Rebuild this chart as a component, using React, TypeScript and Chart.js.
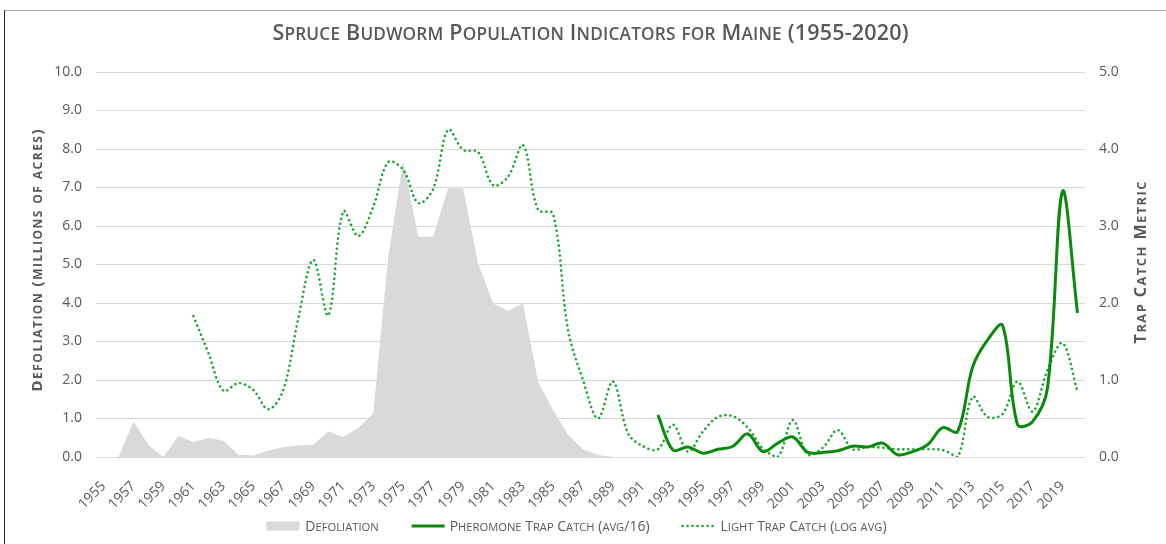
import React, { useEffect, useRef } from 'react';
import { Chart, registerables } from 'chart.js';

Chart.register(...registerables);

const CHART_TITLE = 'Spruce Budworm Population Indicators for Maine (1955-2020)';
const LEFT_AXIS_TITLE = 'Defoliation (millions of acres)';
const RIGHT_AXIS_TITLE = 'Trap Catch Metric';

const YEARS = [
  '1955', '1956', '1957', '1958', '1959', '1960', '1961', '1962', '1963', '1964',
  '1965', '1966', '1967', '1968', '1969', '1970', '1971', '1972', '1973', '1974',
  '1975', '1976', '1977', '1978', '1979', '1980', '1981', '1982', '1983', '1984',
  '1985', '1986', '1987', '1988', '1989', '1990', '1991', '1992', '1993', '1994',
  '1995', '1996', '1997', '1998', '1999', '2000', '2001', '2002', '2003', '2004',
  '2005', '2006', '2007', '2008', '2009', '2010', '2011', '2012', '2013', '2014',
  '2015', '2016', '2017', '2018', '2019', '2020',
];

const X_TICK_LABELS = [
  '1955', '1957', '1959', '1961', '1963', '1965', '1967', '1969', '1971', '1973',
  '1975', '1977', '1979', '1981', '1983', '1985', '1987', '1989', '1991', '1993',
  '1995', '1997', '1999', '2001', '2003', '2005', '2007', '2009', '2011', '2013',
  '2015', '2017', '2019',
];

const LEFT_TICKS = [0, 1, 2, 3, 4, 5, 6, 7, 8, 9, 10];
const RIGHT_TICKS = [0, 1, 2, 3, 4, 5];

// Defoliation, millions of acres (left axis)
const DEFOLIATION = [
  0, 0, 0.92, 0.31, 0, 0.55, 0.38, 0.5, 0.42, 0.06,
  0.04, 0.17, 0.26, 0.3, 0.32, 0.66, 0.52, 0.76, 1.13, 5.2,
  7.7, 5.72, 5.72, 6.98, 6.98, 5.03, 3.99, 3.79, 3.99, 1.96,
  1.22, 0.57, 0.2, 0.05, 0, 0, 0, 0, 0, 0,
  0, 0, 0, 0, 0, 0, 0, 0, 0, 0,
  0, 0, 0, 0, 0, 0, 0, 0, 0, 0,
  0, 0, 0, 0, 0, 0,
];

// Pheromone trap catch (avg/16), right axis
const PHEROMONE = [
  null, null, null, null, null, null, null, null, null, null,
  null, null, null, null, null, null, null, null, null, null,
  null, null, null, null, null, null, null, null, null, null,
  null, null, null, null, null, null, null, 0.545, 0.09, 0.13,
  0.05, 0.1, 0.14, 0.3, 0.07, 0.18, 0.26, 0.06, 0.06, 0.08,
  0.14, 0.13, 0.18, 0.03, 0.07, 0.16, 0.38, 0.33, 1.17, 1.52,
  1.71, 0.42, 0.46, 0.9, 3.45, 1.87,
];

// Light trap catch (log avg), right axis
const LIGHT_TRAP = [
  null, null, null, null, null, null, 1.83, 1.35, 0.86, 0.96,
  0.87, 0.62, 0.87, 1.8, 2.56, 1.84, 3.19, 2.87, 3.25, 3.83,
  3.73, 3.3, 3.48, 4.25, 3.99, 3.96, 3.53, 3.64, 4.05, 3.21,
  3.16, 1.65, 1.0, 0.5, 0.98, 0.31, 0.14, 0.1, 0.42, 0.07,
  0.33, 0.52, 0.53, 0.38, 0.11, 0.0, 0.48, 0.03, 0.12, 0.35,
  0.1, 0.13, 0.12, 0.1, 0.1, 0.1, 0.09, 0.0, 0.78, 0.52,
  0.56, 0.98, 0.59, 1.13, 1.48, 0.85,
];

const SERIES_LABELS = ['Defoliation', 'Pheromone Trap Catch (avg/16)', 'Light Trap Catch (log avg)'];

const FONT = "'Open Sans', sans-serif";
const TEXT_GRAY = '#595959';
const GRID_GRAY = '#d9d9d9';
const AREA_GRAY = '#d9d9d9';
const DARK_GREEN = '#0a8a0a';
const LIGHT_GREEN = '#14a82a';
const DOT_DASH = [0.01, 5];

type Run = { t: string; s: number };

function smallCapsRuns(text: string, size: number, ratio: number): Run[] {
  const runs: Run[] = [];
  for (const ch of text) {
    const lower = ch !== ch.toUpperCase();
    const s = lower ? size * ratio : size;
    const t = lower ? ch.toUpperCase() : ch;
    const last = runs[runs.length - 1];
    if (last && last.s === s) last.t += t;
    else runs.push({ t, s });
  }
  return runs;
}

function measureSmallCaps(ctx: CanvasRenderingContext2D, text: string, size: number, weight: number, ratio: number, spacing: number) {
  (ctx as any).letterSpacing = `${spacing}px`;
  let total = 0;
  for (const r of smallCapsRuns(text, size, ratio)) {
    ctx.font = `${weight} ${r.s}px ${FONT}`;
    total += ctx.measureText(r.t).width;
  }
  (ctx as any).letterSpacing = '0px';
  return total - spacing;
}

// Draws text in small capitals (lowercase letters shown as reduced capitals).
function drawSmallCaps(
  ctx: CanvasRenderingContext2D,
  text: string,
  x: number,
  y: number,
  size: number,
  weight: number,
  ratio: number,
  spacing: number,
  align: 'left' | 'center' = 'center',
) {
  const runs = smallCapsRuns(text, size, ratio);
  const total = measureSmallCaps(ctx, text, size, weight, ratio, spacing);
  (ctx as any).letterSpacing = `${spacing}px`;
  let cx = align === 'center' ? x - total / 2 : x;
  ctx.textAlign = 'left';
  ctx.textBaseline = 'alphabetic';
  for (const r of runs) {
    ctx.font = `${weight} ${r.s}px ${FONT}`;
    ctx.fillText(r.t, cx, y);
    cx += ctx.measureText(r.t).width;
  }
  (ctx as any).letterSpacing = '0px';
}

const titlesPlugin = {
  id: 'smallCapsTitles',
  afterDraw(chart: any) {
    const { ctx, chartArea } = chart;
    const midX = (chartArea.left + chartArea.right) / 2;
    const midY = (chartArea.top + chartArea.bottom) / 2;
    ctx.save();
    ctx.fillStyle = TEXT_GRAY;
    // chart title
    drawSmallCaps(ctx, CHART_TITLE, midX, 39.5, 21.5, 600, 0.8, 0.2);
    // left axis title
    ctx.save();
    ctx.translate(42, midY - 4);
    ctx.rotate(-Math.PI / 2);
    drawSmallCaps(ctx, LEFT_AXIS_TITLE, 0, 0, 15, 700, 0.8, 1.5);
    ctx.restore();
    // right axis title
    ctx.save();
    ctx.translate(1146, midY - 2);
    ctx.rotate(-Math.PI / 2);
    drawSmallCaps(ctx, RIGHT_AXIS_TITLE, 0, 0, 16, 700, 0.8, 1.5);
    ctx.restore();

    // legend
    const size = 14;
    const ratio = 0.8;
    const symW = 33;
    const gap = 6;
    const itemGap = 32;
    const cy = 526;
    const widths = SERIES_LABELS.map((t) => measureSmallCaps(ctx, t, size, 400, ratio, 0));
    const total = widths.reduce((a, w) => a + symW + gap + w, 0) + itemGap * (SERIES_LABELS.length - 1);
    let x = midX - 14 - total / 2;
    SERIES_LABELS.forEach((label, i) => {
      ctx.save();
      if (i === 0) {
        ctx.fillStyle = AREA_GRAY;
        ctx.fillRect(x, cy - 4.5, symW, 9);
      } else {
        ctx.beginPath();
        ctx.strokeStyle = i === 1 ? DARK_GREEN : LIGHT_GREEN;
        ctx.lineWidth = i === 1 ? 3 : 2.6;
        ctx.lineCap = i === 1 ? 'butt' : 'round';
        ctx.setLineDash(i === 1 ? [] : DOT_DASH);
        ctx.moveTo(x + 1, cy);
        ctx.lineTo(x + symW + 1, cy);
        ctx.stroke();
      }
      ctx.restore();
      ctx.fillStyle = TEXT_GRAY;
      drawSmallCaps(ctx, label, x + symW + gap, cy + 5, size, 400, ratio, 0, 'left');
      x += symW + gap + widths[i] + itemGap;
    });
    ctx.restore();
  },
};

export default function App() {
  const canvasRef = useRef<HTMLCanvasElement | null>(null);

  useEffect(() => {
    document.body.style.margin = '0';
    const canvas = canvasRef.current;
    if (!canvas) return;
    const chart = new Chart(canvas, {
      type: 'line',
      data: {
        labels: YEARS,
        datasets: [
          {
            label: SERIES_LABELS[0],
            data: DEFOLIATION,
            yAxisID: 'y',
            borderWidth: 0,
            borderColor: AREA_GRAY,
            backgroundColor: AREA_GRAY,
            fill: 'origin',
            pointRadius: 0,
            tension: 0,
            order: 3,
          },
          {
            label: SERIES_LABELS[1],
            data: PHEROMONE,
            yAxisID: 'y1',
            borderWidth: 3,
            borderColor: DARK_GREEN,
            backgroundColor: DARK_GREEN,
            fill: false,
            pointRadius: 0,
            tension: 0.35,
            order: 1,
          },
          {
            label: SERIES_LABELS[2],
            data: LIGHT_TRAP,
            yAxisID: 'y1',
            borderWidth: 2.6,
            borderColor: LIGHT_GREEN,
            backgroundColor: LIGHT_GREEN,
            borderDash: DOT_DASH,
            borderCapStyle: 'round',
            fill: false,
            pointRadius: 0,
            tension: 0.35,
            order: 2,
          },
        ],
      },
      options: {
        responsive: false,
        animation: false,
        devicePixelRatio: 1,
        layout: { padding: { left: 0, right: 0, top: 72, bottom: 0 } },
        plugins: {
          tooltip: { enabled: false },
          title: { display: false },
          legend: { display: false },
        },
        scales: {
          x: {
            type: 'category',
            offset: true,
            grid: { display: false, drawTicks: false },
            border: { display: false },
            afterFit: (s: any) => { s.height = 87; },
            ticks: {
              autoSkip: false,
              minRotation: 45,
              maxRotation: 45,
              padding: 21,
              color: TEXT_GRAY,
              font: { family: FONT, size: 14 },
              callback: (_v: any, idx: number) =>
                X_TICK_LABELS.includes(YEARS[idx]) ? YEARS[idx] : '',
            },
          },
          y: {
            position: 'left',
            min: LEFT_TICKS[0],
            max: LEFT_TICKS[LEFT_TICKS.length - 1],
            afterFit: (s: any) => { s.width = 96; },
            afterBuildTicks: (s: any) => { s.ticks = LEFT_TICKS.map((v) => ({ value: v })); },
            grid: { color: GRID_GRAY, lineWidth: 1, drawTicks: false },
            border: { display: false },
            ticks: {
              padding: 14,
              color: TEXT_GRAY,
              font: { family: FONT, size: 14 },
              callback: (v: any) => Number(v).toFixed(1),
            },
          },
          y1: {
            position: 'right',
            min: RIGHT_TICKS[0],
            max: RIGHT_TICKS[RIGHT_TICKS.length - 1],
            afterFit: (s: any) => { s.width = 81; },
            afterBuildTicks: (s: any) => { s.ticks = RIGHT_TICKS.map((v) => ({ value: v })); },
            grid: { display: false, drawTicks: false },
            border: { display: false },
            ticks: {
              padding: 14,
              color: TEXT_GRAY,
              font: { family: FONT, size: 14 },
              callback: (v: any) => Number(v).toFixed(1),
            },
          },
        },
      },
      plugins: [titlesPlugin],
    });
    return () => chart.destroy();
  }, []);

  return (
    <div style={{ position: 'relative', width: 1166, height: 544, overflow: 'hidden', background: '#fff' }}>
      <div
        style={{
          position: 'absolute',
          left: 4,
          top: 10,
          width: 1162,
          height: 534,
          borderTop: '1px solid #a6a6a6',
          borderLeft: '1px solid #262626',
          boxSizing: 'border-box',
        }}
      />
      <canvas ref={canvasRef} width={1166} height={544} style={{ position: 'absolute', left: 0, top: 0, width: 1166, height: 544 }} />
    </div>
  );
}
